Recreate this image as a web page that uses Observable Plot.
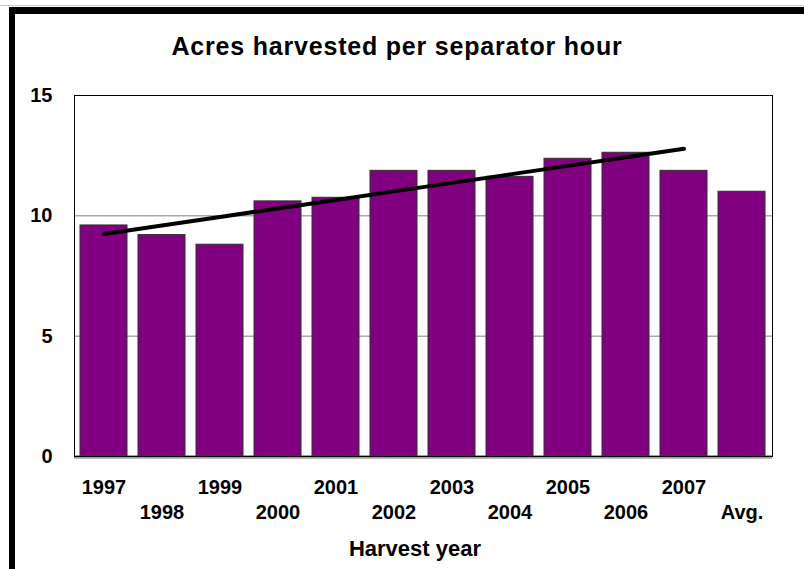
<!DOCTYPE html>
<html>
<head>
<meta charset="utf-8">
<script src="https://cdn.jsdelivr.net/npm/d3@7"></script>
<script src="https://cdn.jsdelivr.net/npm/@observablehq/plot@0.6"></script>
<style>
  html, body { margin: 0; padding: 0; background: #fff; overflow: hidden; width: 804px; height: 569px; }
  #page { position: relative; width: 804px; height: 569px; overflow: hidden; }
  #rightmask { position: fixed; right: 0; top: 0; width: 4px; height: 569px; background: #fff; z-index: 5; }
  #topline { position: absolute; left: 0; top: 5px; width: 804px; height: 1px; background: #c8c8c8; z-index: 6; }
  #topband { position: absolute; left: 9px; top: 7px; width: 795px; height: 7px; background: #000; z-index: 6; }
  #leftband { position: absolute; left: 9px; top: 7px; width: 6px; height: 562px; background: #000; z-index: 6; }
  #title { position: relative; height: 80px; }
  #title span { position: absolute; left: 0; width: 794px; top: 34px; text-align: center;
    font: bold 25px/25px "Liberation Sans", Arial, sans-serif; letter-spacing: 0.8px; color: #000; }
  #caption { position: relative; height: 39px; }
  #caption span { position: absolute; left: 0; width: 804px; padding-left: 26px; box-sizing: border-box; top: 8px; text-align: center;
    font: bold 22px/22px "Liberation Sans", Arial, sans-serif; color: #000; }
  #chart svg { display: block; }
</style>
</head>
<body>
<div id="page">
  <div id="title"><span>Acres harvested per separator hour</span></div>
  <div id="chart"></div>
  <div id="caption"><span>Harvest year</span></div>
  <div id="rightmask"></div>
  <div id="topline"></div>
  <div id="topband"></div>
  <div id="leftband"></div>
</div>
<script>
// ---- data ----
const categories = ["1997", "1998", "1999", "2000", "2001", "2002", "2003", "2004", "2005", "2006", "2007", "Avg."];
const values = [9.6, 9.2, 8.8, 10.6, 10.75, 11.87, 11.87, 11.62, 12.37, 12.62, 11.87, 11.0];
const yTicks = [0, 5, 10, 15];
const gridValues = [5, 10];
const trendCategories = ["1997", "1998", "1999", "2000", "2001", "2002", "2003", "2004", "2005", "2006", "2007"];

// table for the library
const rows = categories.map((c, i) => ({category: c, value: values[i], row: i % 2}));

// linear trend (least squares) over the yearly bars, as the original trendline
const trendRows = trendCategories.map((c, i) => ({category: c, i, value: values[categories.indexOf(c)]}));
const mx = d3.mean(trendRows, d => d.i);
const my = d3.mean(trendRows, d => d.value);
const slope = d3.sum(trendRows, d => (d.i - mx) * (d.value - my)) / d3.sum(trendRows, d => (d.i - mx) ** 2);
const trend = trendRows.map(d => ({category: d.category, value: my + slope * (d.i - mx)}));

const chart = Plot.plot({
  width: 804,
  height: 450,
  marginTop: 15,
  marginBottom: 74,
  marginLeft: 74,
  marginRight: 32,
  style: "font-family: 'Liberation Sans', Arial, sans-serif; font-size: 20px; font-weight: bold; color: #000; background: transparent; overflow: visible;",
  x: {type: "band", domain: categories, paddingInner: 0.187, paddingOuter: 0.0935, axis: null},
  y: {domain: [0, 15], ticks: yTicks, tickSize: 0, tickPadding: 22, label: null, tickFormat: d3.format("d")},
  marks: [
    Plot.ruleY(gridValues, {stroke: "#808080", strokeWidth: 1}),
    Plot.barY(rows, {x: "category", y: "value", fill: "#800080", stroke: "#303030", strokeWidth: 1}),
    Plot.ruleY([0], {stroke: "#b8b8b8", strokeWidth: 1, dy: 2}),
    Plot.ruleY([0], {stroke: "#404040", strokeWidth: 2}),
    Plot.frame({stroke: "#000", strokeWidth: 1}),
    Plot.line(trend, {x: "category", y: "value", stroke: "#000", strokeWidth: 4, strokeLinecap: "round"}),
    Plot.text(rows.filter(d => d.row === 0), {x: "category", text: "category", frameAnchor: "bottom", lineAnchor: "middle", dy: 31, fontSize: 20, fontWeight: "bold", fill: "#000"}),
    Plot.text(rows.filter(d => d.row === 1), {x: "category", text: "category", frameAnchor: "bottom", lineAnchor: "middle", dy: 56, fontSize: 20, fontWeight: "bold", fill: "#000"})
  ]
});
document.getElementById("chart").appendChild(chart);
</script>
</body>
</html>
